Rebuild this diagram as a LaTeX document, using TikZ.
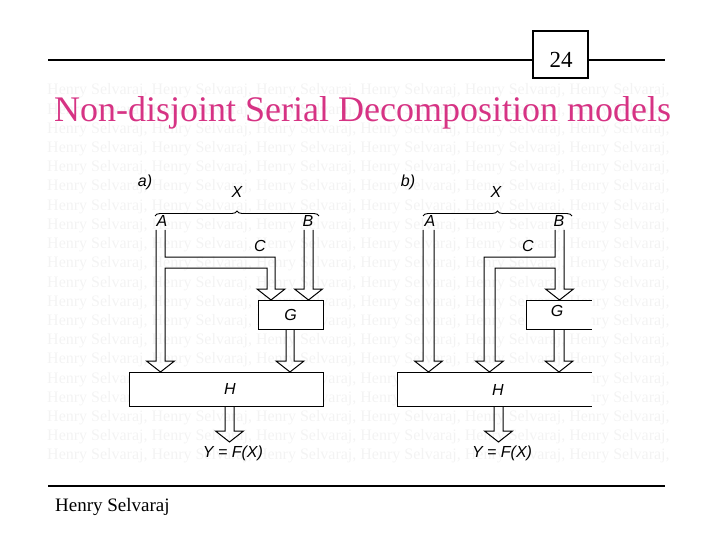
\documentclass[tikz,border=0pt]{standalone}
\usepackage{fontspec}
\setmainfont{Liberation Serif}
\newfontfamily\figfont{Liberation Sans}
\usetikzlibrary{decorations.pathreplacing}
\definecolor{titlepink}{RGB}{214,51,132}
\definecolor{markgray}{RGB}{243,243,243}
% hollow arrow pointing down: centre x, shaft top, head base, half shaft width
\newcommand\pipedown[4]{%
  \draw[pipe] (#1-#4,#2) -- (#1-#4,#3) -- (#1-14,#3) -- (#1,#3+11) -- (#1+14,#3) -- (#1+#4,#3) -- (#1+#4,#2);}

\begin{document}
\begin{tikzpicture}[x=1pt, y=-1pt,
  pipe/.style={line width=1pt, line join=miter},
  block/.style={draw, line width=1pt, fill=white, inner sep=0pt, font=\figfont\itshape\fontsize{16}{18}\selectfont},
  lbl/.style={inner sep=0pt, font=\figfont\itshape\fontsize{16}{18}\selectfont},
  xbrace/.style={decorate, decoration={brace, amplitude=5pt}, line width=0.9pt},
  wmark/.style={anchor=base west, inner sep=0pt, text=markgray, font=\fontsize{16}{18}\selectfont}]
\useasboundingbox (0,0) rectangle (720,540);
% watermark rows
\foreach \r in {0,...,19}
  \node[wmark] (wm\r) at (47,{95+19.2*\r}) {Henry Selvaraj, Henry Selvaraj, Henry Selvaraj, Henry Selvaraj, Henry Selvaraj, Henry Selvaraj,};
% header and footer
\coordinate (hl) at (48,60);
\coordinate (hr) at (665,60);
\node (page) [draw, line width=1.2pt, minimum width=55pt, minimum height=47pt, inner sep=0pt] at (560.5,54.5) {};
\node (pnum) [inner sep=0pt, font=\fontsize{23}{25}\selectfont] at (561,60) {24};
\draw[line width=2pt] (hl) -- (hl -| page.west) (page.east |- hr) -- (hr);
\node (title) [anchor=base west, inner sep=0pt, text=titlepink, font=\fontsize{36}{40}\selectfont] at (54,122) {Non-disjoint Serial Decomposition models};
\coordinate (fl) at (48,486);
\coordinate (fr) at (665,486);
\draw[line width=2.5pt] (fl) -- (fr);
\node (author) [anchor=base west, inner sep=0pt, font=\fontsize{19}{21}\selectfont] at (55,511) {Henry Selvaraj};

% a)
\node (taga) [lbl] at (145,182) {a)};
\node (xa) [lbl] at (237,192) {X};
\coordinate (bla) at (155,216);
\coordinate (bra) at (319,216);
\draw[xbrace] (bla) -- (bra);
\node (ina) [lbl] at (162,221) {A};
\node (inb) [lbl] at (308,221) {B};
\node (inc) [lbl] at (260,246) {C};
\node (ga) [block, minimum width=65pt, minimum height=29pt] at (290.5,314.5) {G};
\node (ha) [block, minimum width=194pt, minimum height=34pt] at (226,389) {};
\node (hla) [lbl] at (230,389) {H};
\draw[pipe] (156,230) -- (156,361) -- (146.5,361) -- (160.5,372) -- (174.5,361) -- (165,361)
  -- (165,268) -- (267,268) -- (267,289) -- (257,289) -- (271,300) -- (285,289) -- (275,289)
  -- (275,257) -- (165,257) -- (165,230);
\pipedown{308.5}{230}{289}{4.5}
\pipedown{290}{329}{361}{4}
\pipedown{229.5}{406}{431}{4.5}
\node (ya) [lbl] at (233,453) {Y = F(X)};

% b)
\node (tagb) [lbl] at (408,182) {b)};
\node (xb) [lbl] at (496,192) {X};
\coordinate (blb) at (423,216);
\coordinate (brb) at (572,216);
\draw[xbrace] (blb) -- (brb);
\node (inab) [lbl] at (430,221) {A};
\node (inbb) [lbl] at (559,221) {B};
\node (incb) [lbl] at (528,246) {C};
\node (gb) [block, draw=none, minimum width=64pt, minimum height=28pt] at (559,315) {};
\node (glb) [lbl] at (557,311) {G};
\draw[line width=1pt] (gb.north east) -- (gb.north west) -- (gb.south west) -- (gb.south east);
\node (hb) [block, draw=none, minimum width=193pt, minimum height=33pt] at (494.5,389.5) {};
\node (hlb) [lbl] at (498,390) {H};
\draw[line width=1pt] (hb.north east) -- (hb.north west) -- (hb.south west) -- (hb.south east);
\pipedown{428.5}{230}{361}{5.5}
\draw[pipe] (555,230) -- (555,257) -- (484,257) -- (484,361) -- (475.5,361) -- (489.5,372) -- (503.5,361) -- (495,361)
  -- (495,268) -- (555,268) -- (555,289) -- (545.5,289) -- (559.5,300) -- (573.5,289) -- (564,289) -- (564,230);
\pipedown{559}{329}{361}{5}
\pipedown{498.5}{406}{431}{4.5}
\node (yb) [lbl] at (502,453) {Y = F(X)};
\end{tikzpicture}
\end{document}
